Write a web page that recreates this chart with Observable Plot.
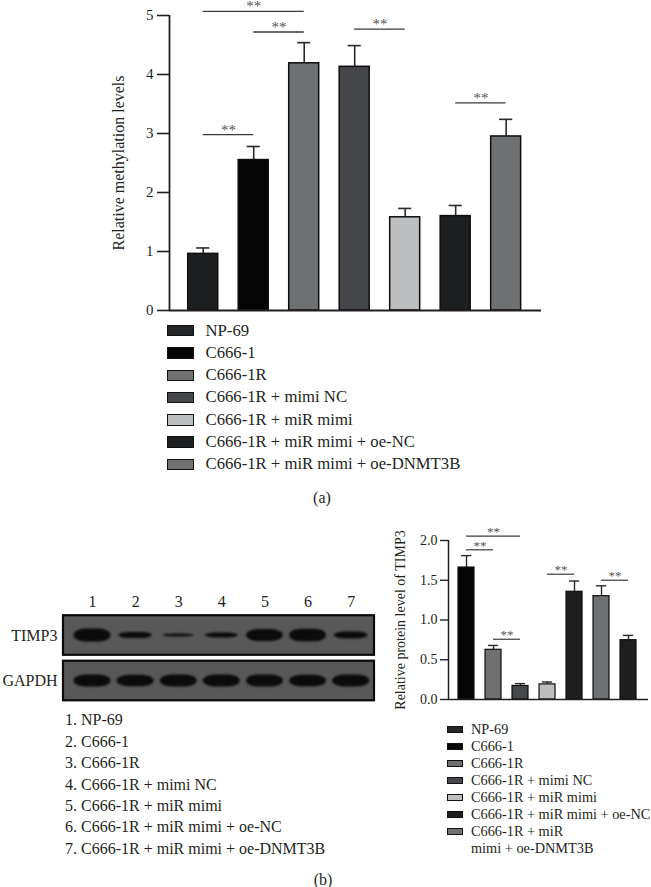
<!DOCTYPE html>
<html>
<head>
<meta charset="utf-8">
<script src="https://cdn.jsdelivr.net/npm/d3@7"></script>
<script src="https://cdn.jsdelivr.net/npm/@observablehq/plot@0.6"></script>
<style>
  html, body { margin: 0; padding: 0; background: #fff; }
  body { width: 651px; height: 887px; position: relative; overflow: hidden;
         font-family: "Liberation Serif", "Times New Roman", serif; color: #231f20; }
  .abs { position: absolute; }
  svg { overflow: visible; }
  .row { display: flex; align-items: flex-start; white-space: nowrap; }
  .legA .row { line-height: 22.3px; font-size: 16.7px; }
  .legA .sw { width: 27px; height: 11.5px; margin-top: 5.4px; margin-right: 11.5px; box-sizing: border-box; border: 1.6px solid #111; flex: none; }
  .legB .row { line-height: 17.1px; font-size: 14.3px; }
  .legB .sw { width: 16.5px; height: 7px; margin-top: 5px; margin-right: 7.8px; box-sizing: border-box; border: 1.3px solid #111; flex: none; }
  .list { font-size: 16px; line-height: 21.4px; white-space: nowrap; }
  .cap { font-size: 16px; line-height: 20px; text-align: center; width: 100px; }
  g[aria-label="bands"] rect { filter: blur(1.2px); }
</style>
</head>
<body>
<div id="plotA" class="abs" style="left:0;top:0"></div>
<div id="legA" class="abs legA" style="left:167px;top:319.6px"></div>
<div class="abs cap" style="left:272px;top:488px">(a)</div>
<div id="blot" class="abs" style="left:0;top:585px"></div>
<div id="list" class="abs list" style="left:65px;top:709.3px"></div>
<div id="plotB" class="abs" style="left:380px;top:520px"></div>
<div id="legB" class="abs legB" style="left:446.7px;top:720.7px"></div>
<div class="abs cap" style="left:273px;top:870px">(b)</div>
<script>
// ---------- data ----------
const groups = [
  "NP-69",
  "C666-1",
  "C666-1R",
  "C666-1R + mimi NC",
  "C666-1R + miR mimi",
  "C666-1R + miR mimi + oe-NC",
  "C666-1R + miR mimi + oe-DNMT3B"
];
const legendLabelsB = [
  "NP-69",
  "C666-1",
  "C666-1R",
  "C666-1R + mimi NC",
  "C666-1R + miR mimi",
  "C666-1R + miR mimi + oe-NC",
  "C666-1R + miR<br>mimi + oe-DNMT3B"
];
const methylation    = [0.96, 2.55, 4.19, 4.13, 1.58, 1.60, 2.95];
const methylationErr = [0.10, 0.23, 0.35, 0.36, 0.15, 0.18, 0.29];
const protein    = [1.66, 0.625, 0.17, 0.19, 1.355, 1.30, 0.746];
const proteinErr = [0.15, 0.055, 0.03, 0.03, 0.135, 0.13, 0.06];
const yTicksA = [0, 1, 2, 3, 4, 5];
const yTicksB = [0, 0.5, 1, 1.5, 2];
const yLabelA = "Relative methylation levels";
const yLabelB = "Relative protein level of TIMP3";
const sigA = [
  {from: 0, to: 2, level: 5.07},
  {from: 1, to: 2, level: 4.72},
  {from: 3, to: 4, level: 4.77},
  {from: 0, to: 1, level: 2.98},
  {from: 5, to: 6, level: 3.52}
];
const sigB = [
  {from: 0, to: 2, level: 2.054},
  {from: 0, to: 1, level: 1.883},
  {from: 1, to: 2, level: 0.758},
  {from: 3, to: 4, level: 1.576},
  {from: 5, to: 6, level: 1.50}
];
const lanes = ["1", "2", "3", "4", "5", "6", "7"];
const blotRows = ["TIMP3", "GAPDH"];
const timp3Band = [1.0, 0.47, 0.24, 0.40, 0.93, 0.97, 0.55];
const gapdhBand = [0.92, 0.88, 0.92, 0.93, 0.92, 0.88, 0.92];

// ---------- styles ----------
const INK = "#231f20";
const SERIF = '"Liberation Serif", "Times New Roman", serif';
const barColorsA = ["#1e1f21", "#050505", "#6e7072", "#45474a", "#bcbec0", "#1e1f21", "#6e7072"];
const barColorsB = ["#050505", "#6e7072", "#45474a", "#bcbec0", "#1e1f21", "#6e7072", "#1e1f21"];
const legendColors = ["#252628", "#050505", "#6e7072", "#45474a", "#bcbec0", "#1e1f21", "#6e7072"];

// ---------- panel (a) chart ----------
const xDomA = [-0.668, 6.70];
const rowsA = groups.map((g, i) => ({i, v: methylation[i], hi: methylation[i] + methylationErr[i], fill: barColorsA[i]}));
const plotA = Plot.plot({
  width: 651, height: 320,
  marginLeft: 169, marginRight: 110, marginTop: 15, marginBottom: 10,
  x: {domain: xDomA, axis: null},
  y: {domain: [0, 5], axis: null},
  color: {type: "identity"},
  style: {fontFamily: SERIF, fontSize: "15px", color: INK, background: "transparent", overflow: "visible"},
  marks: [
    Plot.ruleX(rowsA, {x: "i", y1: "v", y2: "hi", stroke: "#2a2a2a", strokeWidth: 1.6}),
    Plot.ruleY(rowsA, {y: "hi", x1: d => d.i - 0.13, x2: d => d.i + 0.13, stroke: "#2a2a2a", strokeWidth: 1.6}),
    Plot.rect(rowsA, {x1: d => d.i - 0.297, x2: d => d.i + 0.297, y1: 0, y2: "v", fill: "fill", stroke: "#0d0d0d", strokeWidth: 1.5}),
    Plot.ruleY(sigA, {y: "level", x1: "from", x2: "to", stroke: "#3a3a3a", strokeWidth: 1.3}),
    Plot.text(sigA, {x: d => (d.from + d.to) / 2, y: "level", text: () => "**", lineAnchor: "bottom", fontSize: 15, fill: "#555"}),
    Plot.axisY({ticks: yTicksA, tickFormat: d => String(d), tickSize: 12, tickPadding: 4, label: null, strokeWidth: 1.6, fontSize: 15, stroke: INK}),
    Plot.ruleX([xDomA[0]], {stroke: INK, strokeWidth: 1.8}),
    Plot.ruleY([0], {stroke: INK, strokeWidth: 1.8}),
    Plot.text([yLabelA], {frameAnchor: "left", textAnchor: "middle", rotate: -90, dx: -51, fontSize: 16, text: d => d, fill: INK})
  ]
});
document.getElementById("plotA").append(plotA);

// ---------- legends ----------
function legend(el, labels) {
  labels.forEach((lab, i) => {
    const r = document.createElement("div");
    r.className = "row";
    const s = document.createElement("div");
    s.className = "sw";
    s.style.background = legendColors[i];
    const t = document.createElement("div");
    t.innerHTML = lab;
    r.append(s, t);
    el.append(r);
  });
}
legend(document.getElementById("legA"), groups);
legend(document.getElementById("legB"), legendLabelsB);

// ---------- blot ----------
const blotX = [-0.673, 6.54];
const boxes = blotRows.map((name, k) => ({name, row: 1 - k}));
const bands = [
  ...timp3Band.map((t, i) => ({lane: i, row: 1, t, w: 0.35 + 0.08 * t})),
  ...gapdhBand.map((t, i) => ({lane: i, row: 0, t, w: 0.43}))
];
const blot = Plot.plot({
  width: 380, height: 120,
  marginLeft: 63, marginRight: 6, marginTop: 50, marginBottom: 24.5,
  x: {domain: blotX, axis: null},
  y: {domain: [0, 1], axis: null},
  style: {fontFamily: SERIF, fontSize: "16px", color: INK, background: "transparent", overflow: "visible"},
  marks: [
    Plot.rect(boxes, {x1: blotX[0], x2: blotX[1], y1: d => d.row - 0.435, y2: d => d.row + 0.435, fill: "#585858", stroke: "#0a0a0a", strokeWidth: 2.2}),
    Plot.rect(bands, {x1: d => d.lane - d.w, x2: d => d.lane + d.w, y1: d => d.row - 0.143 * d.t, y2: d => d.row + 0.143 * d.t,
                      fill: "#0b0b0b", rx: 12, ry: 7, ariaLabel: "bands", imageFilter: "blur(1.2px)"}),
    Plot.text(lanes, {x: (d, i) => i, y: 1.73, text: d => d, fontSize: 16, fill: INK}),
    Plot.text(boxes, {x: blotX[0], y: "row", text: "name", textAnchor: "end", dx: -6, fontSize: 16, fill: INK})
  ]
});
document.getElementById("blot").append(blot);

// lane list
const listEl = document.getElementById("list");
groups.forEach((g, i) => {
  const d = document.createElement("div");
  d.textContent = `${lanes[i]}. ${g}`;
  listEl.append(d);
});

// ---------- panel (b) chart ----------
const xDomB = [-0.667, 6.74];
const rowsB = groups.map((g, i) => ({i, v: protein[i], hi: protein[i] + proteinErr[i], fill: barColorsB[i]}));
const plotB = Plot.plot({
  width: 271, height: 190,
  marginLeft: 68, marginRight: 3, marginTop: 20, marginBottom: 11,
  x: {domain: xDomB, axis: null},
  y: {domain: [0, 2], axis: null},
  color: {type: "identity"},
  style: {fontFamily: SERIF, fontSize: "14px", color: INK, background: "transparent", overflow: "visible"},
  marks: [
    Plot.ruleX(rowsB, {x: "i", y1: "v", y2: "hi", stroke: "#2a2a2a", strokeWidth: 1.4}),
    Plot.ruleY(rowsB, {y: "hi", x1: d => d.i - 0.19, x2: d => d.i + 0.19, stroke: "#2a2a2a", strokeWidth: 1.4}),
    Plot.rect(rowsB, {x1: d => d.i - 0.296, x2: d => d.i + 0.296, y1: 0, y2: "v", fill: "fill", stroke: "#0d0d0d", strokeWidth: 1.2}),
    Plot.ruleY(sigB, {y: "level", x1: "from", x2: "to", stroke: "#3a3a3a", strokeWidth: 1.2}),
    Plot.text(sigB, {x: d => (d.from + d.to) / 2, y: "level", text: () => "**", lineAnchor: "bottom", fontSize: 13, fill: "#555"}),
    Plot.axisY({ticks: yTicksB, tickFormat: d3.format(".1f"), tickSize: 8, tickPadding: 3, label: null, strokeWidth: 1.4, fontSize: 14, stroke: INK}),
    Plot.ruleX([xDomB[0]], {stroke: INK, strokeWidth: 1.5}),
    Plot.ruleY([0], {stroke: INK, strokeWidth: 1.5}),
    Plot.text([yLabelB], {frameAnchor: "left", textAnchor: "middle", rotate: -90, dx: -48, fontSize: 14, text: d => d, fill: INK})
  ]
});
document.getElementById("plotB").append(plotB);
</script>
</body>
</html>
